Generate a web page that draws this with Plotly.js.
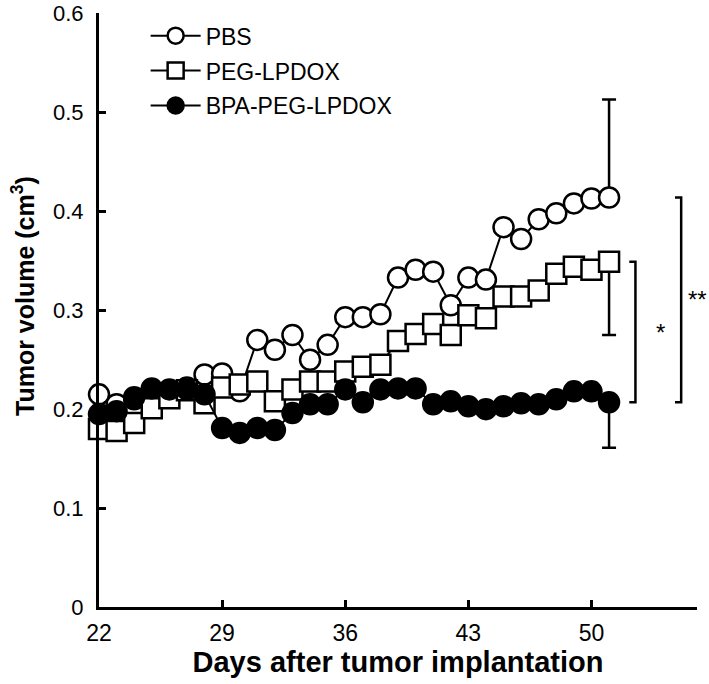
<!DOCTYPE html>
<html>
<head>
<meta charset="utf-8">
<script src="https://cdn.plot.ly/plotly-3.0.1.min.js"></script>
<style>html,body{margin:0;padding:0;background:#fff;}#chart{width:709px;height:684px;}</style>
</head>
<body>
<div id="chart"></div>
<script>
// ---- data ----
var days = [22,23,24,25,26,27,28,29,30,31,32,33,34,35,36,37,38,39,40,41,42,43,44,45,46,47,48,49,50,51];
var pbs = [0.215,0.205,0.210,0.215,0.215,0.222,0.235,0.236,0.218,0.270,0.260,0.275,0.250,0.265,0.293,0.293,0.296,0.333,0.341,0.339,0.305,0.333,0.331,0.384,0.372,0.392,0.398,0.408,0.413,0.414];
var peg = [0.180,0.178,0.186,0.201,0.211,0.219,0.206,0.222,0.225,0.228,0.208,0.220,0.228,0.228,0.238,0.243,0.245,0.269,0.276,0.286,0.275,0.295,0.292,0.314,0.314,0.320,0.337,0.344,0.341,0.349];
var bpa = [0.195,0.198,0.212,0.221,0.220,0.220,0.215,0.181,0.176,0.181,0.179,0.196,0.205,0.205,0.220,0.207,0.220,0.221,0.221,0.205,0.208,0.203,0.200,0.203,0.206,0.205,0.210,0.218,0.218,0.207];
var pbsErrUp = 0.099;     // last point only
var pegErrDown = 0.074;   // last point only
var bpaErrDown = 0.046;   // last point only
var seriesNames = ['PBS','PEG-LPDOX','BPA-PEG-LPDOX'];
var xTicks = [22,29,36,43,50];
var yTicks = [0,0.1,0.2,0.3,0.4,0.5,0.6];
var yTickText = ['0','0.1','0.2','0.3','0.4','0.5','0.6'];
var sigLabels = ['*','**'];

function lastOnly(v){ return days.map(function(d,i){ return i===days.length-1 ? v : NaN; }); }
var zeros = days.map(function(){return 0;});

var FONT = 'Arial, "Liberation Sans", Helvetica, sans-serif';
var mk = function(sym, fill){ return {symbol: sym, size: 20, color: fill, line: {color:'#000', width: 2.5}}; };

var traces = [
  {x: days, y: pbs, name: seriesNames[0], mode:'lines+markers', type:'scatter',
   line:{color:'#000', width:2}, marker: mk('circle','#fff'), legendgroup:'a', cliponaxis:false,
   error_y:{type:'data', symmetric:false, array: lastOnly(pbsErrUp), arrayminus: zeros, color:'#000', thickness:2.5, width:7}},
  {x: days, y: peg, name: seriesNames[1], mode:'lines+markers', type:'scatter',
   line:{color:'#000', width:2}, marker: mk('square','#fff'), legendgroup:'b', cliponaxis:false,
   error_y:{type:'data', symmetric:false, array: zeros, arrayminus: lastOnly(pegErrDown), color:'#000', thickness:2.5, width:7}},
  {x: days, y: bpa, name: seriesNames[2], mode:'lines+markers', type:'scatter',
   line:{color:'#000', width:2}, marker: mk('circle','#000'), legendgroup:'c', cliponaxis:false,
   error_y:{type:'data', symmetric:false, array: zeros, arrayminus: lastOnly(bpaErrDown), color:'#000', thickness:2.5, width:7}}
];

var n = days.length - 1;
var brackets = [
  {x: 52.5, top: peg[n], bottom: bpa[n], label: sigLabels[0], lx: 53.9, anchor:'center'},
  {x: 55.1, top: pbs[n], bottom: bpa[n], label: sigLabels[1], lx: 55.4, anchor:'left'}
];
var shapes = [], annotations = [];
brackets.forEach(function(b){
  shapes.push({type:'path', xref:'x', yref:'y',
    path: 'M'+(b.x-0.35)+','+b.top+' L'+b.x+','+b.top+' L'+b.x+','+b.bottom+' L'+(b.x-0.35)+','+b.bottom,
    line:{color:'#000', width:2.5}});
  annotations.push({x: b.lx, y:(b.top+b.bottom)/2, xref:'x', yref:'y', text:b.label, showarrow:false,
    font:{family:FONT, size:24, color:'#000'}, xanchor:b.anchor, yanchor:'middle'});
});

var layout = {
  width: 709, height: 684,
  margin: {l: 99, r: 12, t: 13, b: 77},
  paper_bgcolor:'#fff', plot_bgcolor:'#fff',
  font: {family: FONT, color:'#000', size: 20},
  showlegend: true,
  legend: {x: 0.078, y: 0.998, xanchor:'left', yanchor:'top', bgcolor:'rgba(0,0,0,0)', itemwidth: 50,
           font:{family:FONT, size:23, color:'#000'}, traceorder:'grouped', tracegroupgap: 2},
  xaxis: {range:[22,56], tickvals: xTicks, ticktext: xTicks.map(String), ticks:'inside', ticklen:7, tickwidth:3,
          tickcolor:'#000', showline:true, linecolor:'#000', linewidth:3, showgrid:false, zeroline:false,
          tickfont:{family:FONT, size:23}, ticklabelstandoff: 3, ticklabeloverflow:'allow',
          title:{text:'Days after tumor implantation', font:{family:FONT, size:29, weight:'bold'}, standoff: 5}},
  yaxis: {range:[0,0.6005], tickvals: yTicks, ticktext: yTickText, ticks:'inside', ticklen:7, tickwidth:3,
          tickcolor:'#000', showline:true, linecolor:'#000', linewidth:3, showgrid:false, zeroline:false,
          tickfont:{family:FONT, size:22}, ticklabelstandoff: 8, ticklabeloverflow:'allow',
          title:{text:'&nbsp;&nbsp;&nbsp;&nbsp;Tumor volume (cm<sup>3</sup>)', font:{family:FONT, size:25, weight:'bold'}, standoff: 12}},
  shapes: shapes,
  annotations: annotations
};

Plotly.newPlot('chart', traces, layout, {displayModeBar:false, staticPlot:true});
</script>
</body>
</html>
